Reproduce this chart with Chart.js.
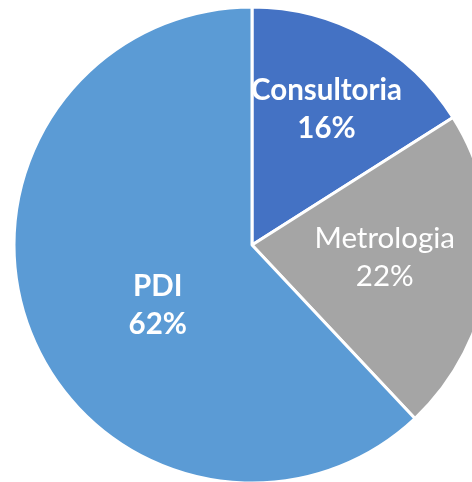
<!DOCTYPE html>
<html>
<head>
<meta charset="utf-8">
<script src="https://cdn.jsdelivr.net/npm/chart.js@4/dist/chart.umd.min.js"></script>
<style>
  html, body { margin: 0; padding: 0; background: #fff; overflow: hidden; }
  #wrap { width: 504px; height: 490px; position: absolute; left: 0; top: 0; }
</style>
</head>
<body>
<div id="wrap"><canvas id="pie" width="504" height="490"></canvas></div>
<script>
const categories = ['Consultoria', 'Metrologia', 'PDI'];
const shares = [16, 22, 62];
const colors = ['#4472C4', '#A5A5A5', '#5B9BD5'];

// where each label sits: fraction of radius, angle shift (deg), bold
const labelSpots = [
  { frac: 0.65, shift: 0, bold: true },
  { frac: 0.56, shift: -2, bold: false },
  { frac: 0.47, shift: -11, bold: true }
];

const sliceLabels = {
  id: 'sliceLabels',
  afterDatasetsDraw(chart) {
    const ctx = chart.ctx;
    const meta = chart.getDatasetMeta(0);
    meta.data.forEach((arc, i) => {
      const p = arc.getProps(['x', 'y', 'startAngle', 'endAngle', 'outerRadius'], true);
      const spot = labelSpots[i];
      const mid = (p.startAngle + p.endAngle) / 2 + spot.shift * Math.PI / 180;
      const r = p.outerRadius * spot.frac;
      const cx = p.x + Math.cos(mid) * r;
      const cy = p.y + Math.sin(mid) * r;
      ctx.save();
      ctx.fillStyle = '#fff';
      ctx.textAlign = 'center';
      ctx.textBaseline = 'middle';
      ctx.font = (spot.bold ? 'bold ' : '') + '29.5px Lato, "Open Sans", sans-serif';
      ctx.fillText(categories[i], cx, cy - 19);
      ctx.fillText(shares[i] + '%', cx, cy + 19);
      ctx.restore();
    });
  }
};

new Chart(document.getElementById('pie'), {
  type: 'pie',
  data: {
    labels: categories,
    datasets: [{
      data: shares,
      backgroundColor: colors,
      borderColor: '#fff',
      borderWidth: 3,
      radius: 238
    }]
  },
  options: {
    responsive: false,
    animation: false,
    layout: { padding: 0 },
    plugins: {
      legend: { display: false },
      tooltip: { enabled: false }
    }
  },
  plugins: [sliceLabels]
});
</script>
</body>
</html>
